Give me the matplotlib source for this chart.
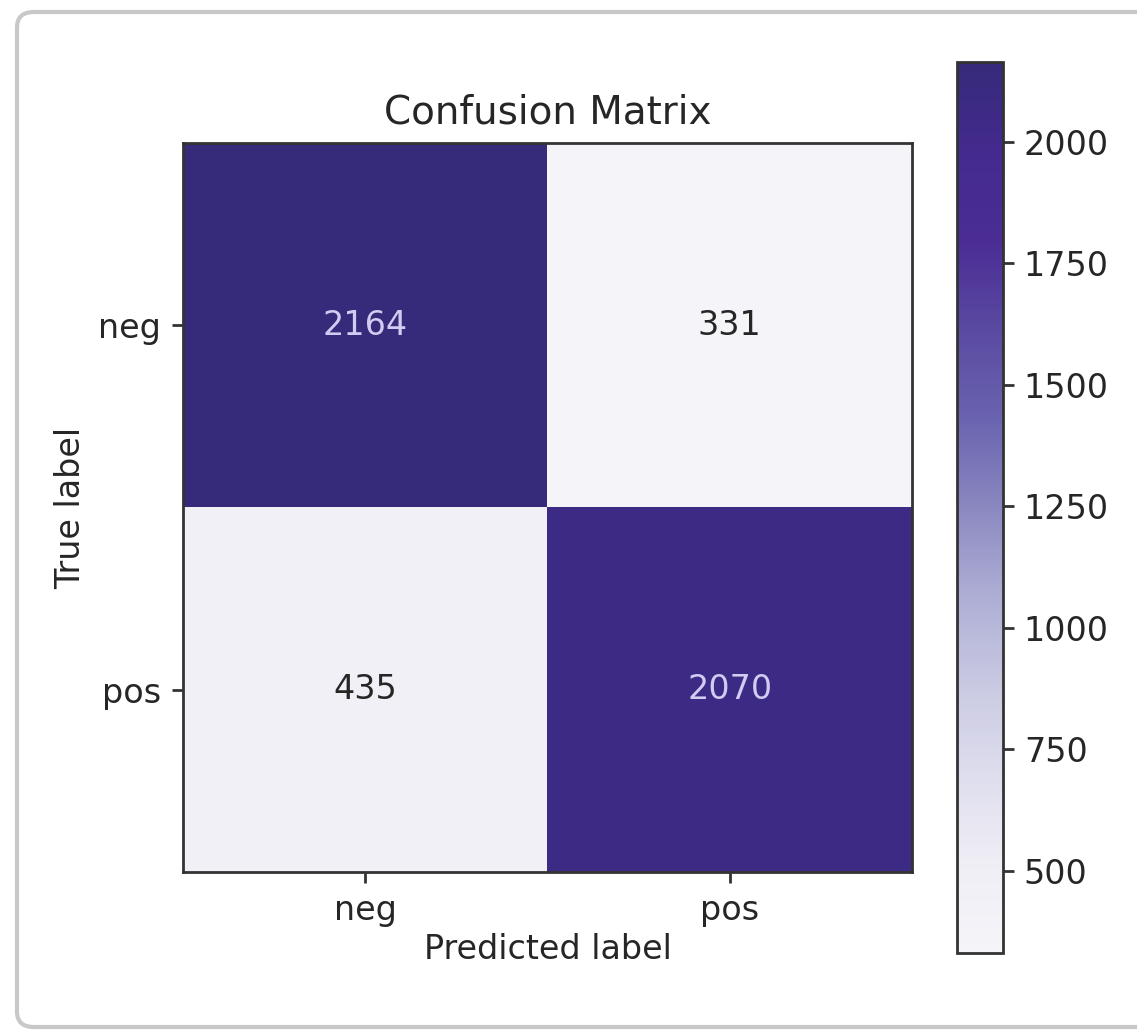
import numpy as np
import matplotlib
matplotlib.use("Agg")
import matplotlib.pyplot as plt
from matplotlib.patches import FancyBboxPatch
from matplotlib.colors import LinearSegmentedColormap

labels = ["neg", "pos"]
cm = np.array([[2164, 331],
               [435, 2070]])
title = "Confusion Matrix"
xlabel = "Predicted label"
ylabel = "True label"
cbar_ticks = [500, 750, 1000, 1250, 1500, 1750, 2000]

# colour ramp as rendered in the reference (low -> high)
ramp = ["#f5f4f9", "#efeef5", "#dedded", "#c9c9e2", "#aeaed5", "#8a88c0",
        "#6a63b0", "#5a4aa0", "#4a2c95", "#442a8e", "#362a7a"]
cmap = LinearSegmentedColormap.from_list("ref_purples", ramp)

W, H = 1137, 1030
fig = plt.figure(figsize=(W / 100, H / 100), dpi=100)
fig.patch.set_facecolor("white")

frame = FancyBboxPatch((17 / W, 1 - 1027 / H), 1.2, (1027 - 12) / H,
                       boxstyle="round,pad=0,rounding_size=0.015",
                       transform=fig.transFigure, facecolor="none",
                       edgecolor="#c8c8c8", linewidth=3, zorder=-1)
fig.patches.append(frame)

fs = 24
tc = "#262626"
ax = fig.add_axes([183 / W, 1 - 872 / H, (912 - 183) / W, (872 - 143) / H])
cax = fig.add_axes([957 / W, 1 - 953 / H, (1003 - 957) / W, (953 - 62) / H])

vmin, vmax = cm.min(), cm.max()
im = ax.imshow(cm, cmap=cmap, vmin=vmin, vmax=vmax, interpolation="nearest")

thresh = (vmax + vmin) / 2.0
for i in range(cm.shape[0]):
    for j in range(cm.shape[1]):
        color = "#d2cbf2" if cm[i, j] > thresh else tc
        ax.text(j, i, f"{cm[i, j]}", ha="center", va="center",
                color=color, fontsize=fs)

ax.set_xticks(range(len(labels)))
ax.set_yticks(range(len(labels)))
ax.set_xticklabels(labels, fontsize=fs, color=tc)
ax.set_yticklabels(labels, fontsize=fs, color=tc)
ax.set_xlabel(xlabel, fontsize=fs, color=tc, labelpad=4)
ax.set_ylabel(ylabel, fontsize=fs, color=tc, labelpad=8)
ax.set_title(title, fontsize=28, color=tc, pad=14)
ax.tick_params(width=2, length=8, pad=8, color="#333333")
for s in ax.spines.values():
    s.set_linewidth(2)
    s.set_color("#333333")

cb = fig.colorbar(im, cax=cax)
cb.set_ticks(cbar_ticks)
cb.ax.tick_params(labelsize=fs, width=2, length=8, pad=7, color="#333333",
                  labelcolor=tc)
cb.outline.set_linewidth(2)
cb.outline.set_edgecolor("#333333")

fig.savefig("out.png", dpi=100)
